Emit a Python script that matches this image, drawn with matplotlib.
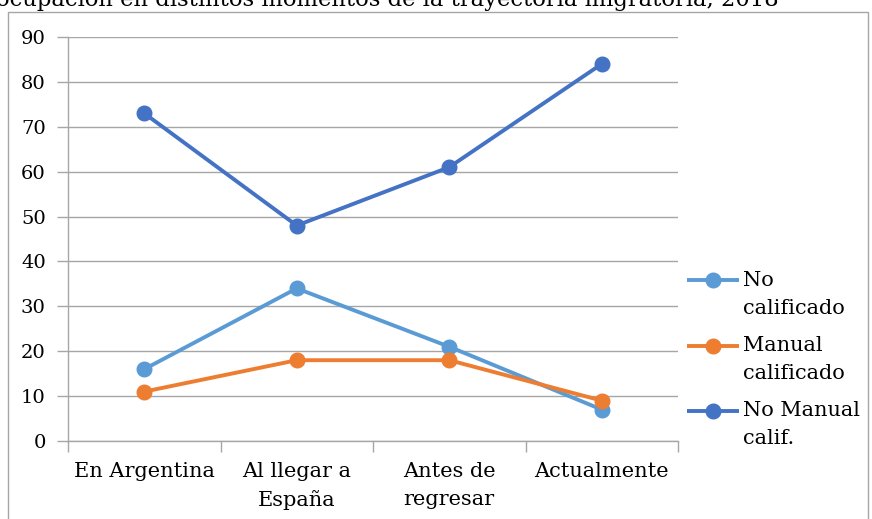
import matplotlib
matplotlib.use("Agg")
import matplotlib.pyplot as plt
from matplotlib.patches import Rectangle
from matplotlib.lines import Line2D
import numpy as np

plt.rcParams['font.family'] = ['DejaVu Serif']

categories = ["En Argentina", "Al llegar a\nEspaña", "Antes de\nregresar", "Actualmente"]
no_calificado = [16, 34, 21, 7]
manual_calificado = [11, 18, 18, 9]
no_manual_calif = [73, 48, 61, 84]

series_labels = ["No\ncalificado", "Manual\ncalificado", "No Manual\ncalif."]
series_colors = ["#5B9BD5", "#ED7D31", "#4472C4"]

W, H = 872, 519
FS = 15
LW, MS = 2.8, 10.5
fig = plt.figure(figsize=(W / 100, H / 100), dpi=100)

# outer chart frame
fig.patches.append(Rectangle((8 / W, -0.05), (868 - 8) / W, 1.05 - 12 / H,
                             transform=fig.transFigure, fill=False,
                             edgecolor="#a6a6a6", linewidth=1.0))

fig.text(-4 / W, 1 - 6 / H,
         "ocupación en distintos momentos de la trayectoria migratoria, 2018",
         fontsize=16.3, ha="left", va="baseline", color="black")

ax = fig.add_axes([68 / W, 1 - 441 / H, (678 - 68) / W, (441 - 37) / H])

x = np.arange(len(categories))
for vals, lab, col in zip([no_calificado, manual_calificado, no_manual_calif],
                          series_labels, series_colors):
    ax.plot(x, vals, color=col, linewidth=LW, marker="o", markersize=MS,
            label=lab, solid_capstyle="round", zorder=3)

ax.set_xlim(-0.5, len(categories) - 0.5)
ax.set_ylim(0, 90)
ax.set_yticks(np.arange(0, 91, 10))
ax.yaxis.grid(True, color="#a6a6a6", linewidth=1.0)
ax.set_axisbelow(True)

for s in ["top", "right"]:
    ax.spines[s].set_visible(False)
for s in ["left", "bottom"]:
    ax.spines[s].set_color("#a6a6a6")
    ax.spines[s].set_linewidth(1.0)

ax.set_xticks(x)
ax.set_xticklabels(categories, linespacing=1.6)
ax.tick_params(axis="x", length=0, pad=15, labelsize=FS)
ax.set_xticks(np.arange(-0.5, len(categories), 1.0), minor=True)
ax.tick_params(axis="x", which="minor", length=8, color="#a6a6a6", width=1.0)
ax.tick_params(axis="y", length=8, color="#a6a6a6", width=1.0, labelsize=14, pad=8)

# legend: key aligned with the first line of each wrapped label
entry_top = 280
entry_step = 65.5
line_step = 28
for i, (lab, col) in enumerate(zip(series_labels, series_colors)):
    yc = 1 - (entry_top + i * entry_step) / H
    fig.add_artist(Line2D([687 / W, 739 / W], [yc, yc], transform=fig.transFigure,
                          color=col, linewidth=LW, solid_capstyle="butt"))
    fig.add_artist(Line2D([713 / W], [yc], transform=fig.transFigure,
                          color=col, marker="o", markersize=MS, linestyle="none"))
    for j, part in enumerate(lab.split("\n")):
        fig.text(743 / W, yc - j * line_step / H, part, fontsize=FS,
                 ha="left", va="center", color="black")

fig.savefig("out.png", dpi=100)
